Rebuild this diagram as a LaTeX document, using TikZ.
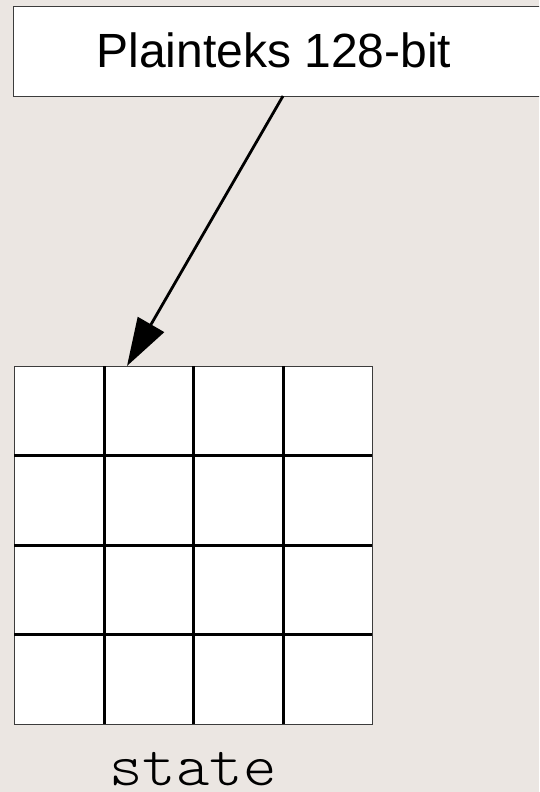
\documentclass[tikz,border=0pt]{standalone}
\usepackage{fontspec}
\setmainfont{Liberation Sans}
\newfontfamily\monofont[Extension=.otf,FakeStretch=1.06]{lmmonolt10-regular}
\usetikzlibrary{arrows.meta}
\definecolor{bgc}{RGB}{235,230,226}
\definecolor{edgec}{RGB}{60,60,60}
\begin{document}
\begin{tikzpicture}[x=1pt,y=-1pt,
  boxstyle/.style={draw=edgec,line width=1.2pt,fill=white},
  gridline/.style={line width=3pt,black},
  arrowstyle/.style={line width=2.8pt,-{Triangle[length=48pt,width=30pt]}}]
\fill[bgc] (0,0) rectangle (539,792);
\useasboundingbox (0,0) rectangle (539,792);
\begin{scope}
\clip (0,0) rectangle (539,792);
\node[boxstyle,minimum width=532pt,minimum height=90pt,anchor=north west,inner sep=0pt] (plain) at (13,6) {};
\end{scope}
\node[font=\fontsize{48}{54}\selectfont,anchor=base,inner sep=0pt] (ptext) at (274,67) {Plainteks 128-bit};
\node[boxstyle,minimum width=358pt,minimum height=358pt,anchor=north west,inner sep=0pt] (grid) at (14,366) {};
\draw[gridline] (104,366) -- (104,724);
\draw[gridline] (193.5,366) -- (193.5,724);
\draw[gridline] (283,366) -- (283,724);
\draw[gridline] (14,455.5) -- (372,455.5);
\draw[gridline] (14,545) -- (372,545);
\draw[gridline] (14,634.5) -- (372,634.5);
\coordinate (tip) at (127,366);
\coordinate (start) at (283,96);
\draw[arrowstyle] (start) -- (tip);
\node[font=\monofont\fontsize{60}{64}\selectfont,anchor=base,inner sep=0pt] (state) at (193,785) {state};
\end{tikzpicture}
\end{document}
